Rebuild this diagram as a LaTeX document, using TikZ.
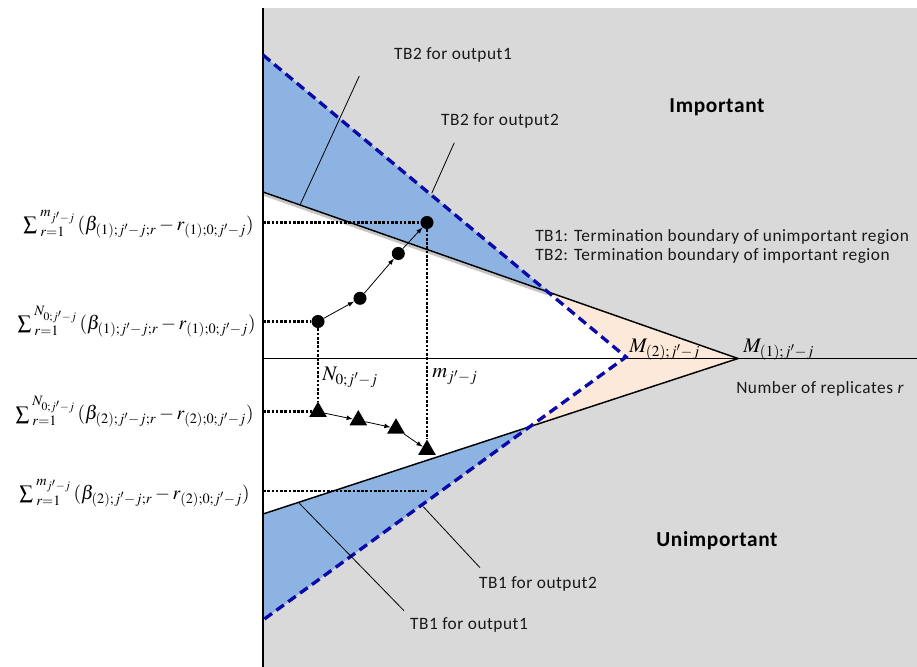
\documentclass[tikz,border=0pt]{standalone}
\usepackage{mathptmx}
\usepackage{fontspec}
\setmainfont{Liberation Serif}
\newfontfamily\calibri[LetterSpace=3]{Carlito}
\usepackage{xcolor}
\usetikzlibrary{shapes.geometric,arrows,positioning,calc}

\definecolor{bggray}{HTML}{D9D9D9}
\definecolor{tbblue}{HTML}{8DB3E2}
\definecolor{peach}{HTML}{FDE9D9}
\definecolor{dashblue}{HTML}{0A0AA6}

\begin{document}
\begin{tikzpicture}[x=0.75pt, y=-0.75pt,
    lbl/.style={font=\calibri\fontsize{13}{14.25}\selectfont, inner sep=0pt, text=black!90},
    region/.style={font=\calibri\bfseries\fontsize{16}{19}\selectfont, inner sep=0pt},
    sumlbl/.style={font=\fontsize{14.5}{18}\selectfont, inner sep=0pt, anchor=base east},
    mathlbl/.style={font=\fontsize{15.5}{18}\selectfont, inner sep=0pt},
    boundary/.style={draw=black, line width=1.1pt},
    tbdash/.style={draw=dashblue, line width=2.5pt, dash pattern=on 7pt off 4pt},
    dots/.style={draw=black, line width=2.1pt, dash pattern=on 2pt off 1.2pt},
    leader/.style={draw=black, line width=0.6pt},
    line/.style={draw, -latex, line width=0.6pt, color=black},
    dot/.style={circle, fill=black, inner sep=0pt, minimum size=9.8pt},
    tri/.style={regular polygon, regular polygon sides=3, fill=black, inner sep=0pt, minimum size=15.3pt}
]
    \useasboundingbox (0,0) rectangle (917,667);

    % Axes and boundary points
    \coordinate (top) at (263,8);
    \coordinate (bot) at (263,667);
    \coordinate (O) at (263,358.5);
    \coordinate (xend) at (917,358.5);
    \coordinate (A1) at (263,192);   % TB2 for output1 (solid)
    \coordinate (B1) at (263,514);   % TB1 for output1 (solid)
    \coordinate (M1) at (738,358.5);
    \coordinate (A2) at (263,55);    % TB2 for output2 (dashed)
    \coordinate (B2) at (263,620);   % TB1 for output2 (dashed)
    \coordinate (M2) at (626,357);
    \coordinate (I1) at (intersection of A1--M1 and A2--M2);
    \coordinate (I2) at (intersection of B1--M1 and B2--M2);

    % Regions
    \fill [bggray] (top) rectangle (917,667);
    \fill [tbblue] (A2) -- (I1) -- (A1) -- cycle;
    \fill [tbblue] (B2) -- (I2) -- (B1) -- cycle;
    \fill [peach] (I1) -- (M1) -- (I2) -- (M2) -- cycle;
    \fill [white] (A1) -- (I1) -- (M2) -- (I2) -- (B1) -- cycle;
    \draw [gray!45, line width=2pt] ([yshift=-1.7pt]A1) -- ([yshift=-1.7pt]I1);

    \draw [line width=1.5pt] (top) -- (bot);
    \draw [line width=1.1pt] (O) -- (xend);

    \path [boundary] (A1) -- (M1) -- (B1);
    \path [tbdash] (A2) -- (M2) -- (B2);

    % Sample paths
    \node [dot] (c1) at (318,321.5) {};
    \node [dot] (c2) at (360,298.3) {};
    \node [dot] (c3) at (398.3,253.5) {};
    \node [dot] (c4) at (427,222.5) {};
    \node [tri] (t1) at (318,411.8) {};
    \node [tri] (t2) at (358.3,420.2) {};
    \node [tri] (t3) at (396,428.4) {};
    \node [tri] (t4) at (427,449.8) {};

    \coordinate (y1) at (263,222.5);
    \coordinate (y2) at (263,321.5);
    \coordinate (y3) at (263,411.8);
    \coordinate (y4) at (263,491);
    \coordinate (y4end) at (427,491);

    \path [dots] (y1) -- (c4);
    \path [dots] (y2) -- (c1);
    \path [dots] (y3) -- (t1);
    \path [dots] (y4) -- (y4end);
    \path [dots] (c1) -- (t1);
    \path [dots] (c4) -- (t4);

    \path [line] (c1) -- (c2);
    \path [line] (c2) -- (c3);
    \path [line] (c3) -- (c4);
    \path [line] (t1) -- (t2);
    \path [line] (t2) -- (t3);
    \path [line] (t3) -- (t4);

    % Sums on the vertical axis
    \node [sumlbl] (s1) at (254,230.5) {$\sum_{\;r=1}^{\;m_{j'-j}}\,(\beta_{(1);j'-j;r}-r_{(1);0;j'-j})$};
    \node [sumlbl] (s2) at (256,329.5) {$\sum_{\;r=1}^{\;N_{0;j'-j}}\,(\beta_{(1);j'-j;r}-r_{(1);0;j'-j})$};
    \node [sumlbl] (s3) at (254,419.8) {$\sum_{\;r=1}^{\;N_{0;j'-j}}\,(\beta_{(2);j'-j;r}-r_{(2);0;j'-j})$};
    \node [sumlbl] (s4) at (250,499) {$\sum_{\;r=1}^{\;m_{j'-j}}\,(\beta_{(2);j'-j;r}-r_{(2);0;j'-j})$};

    % Labels on the horizontal axis
    \node [mathlbl, anchor=west] (nlbl) at (322,377) {$N_{0;j'-j}$};
    \node [mathlbl, anchor=west] (mlbl) at (432,377) {$m_{j'-j}$};
    \node [mathlbl, anchor=base west] (m2lbl) at (629,352) {$M_{(2);j'-j}$};
    \node [mathlbl, anchor=base west] (m1lbl) at (743,352) {$M_{(1);j'-j}$};
    \node [lbl, anchor=west] (nrep) at (736,389) {Number of replicates \textit{r}};

    % Regions and legend
    \node [region] (imp) at (717,107) {Important};
    \node [region] (unimp) at (717,541) {Unimportant};
    \node [lbl, anchor=west, align=left] (legend) at (535,246.5) {TB1: Termination boundary of unimportant region\\TB2: Termination boundary of important region};

    % Boundary labels with leaders
    \node [lbl] (tb2o1) at (453,55) {TB2 for output1};
    \node [lbl] (tb2o2) at (500,121) {TB2 for output2};
    \node [lbl] (tb1o2) at (538,584) {TB1 for output2};
    \node [lbl] (tb1o1) at (469,625) {TB1 for output1};
    \coordinate (l1a) at (359.3,76);
    \coordinate (l1b) at (300,205);
    \coordinate (l2a) at (454.3,142.7);
    \coordinate (l2b) at (431.7,193.3);
    \coordinate (l3a) at (480,567.7);
    \coordinate (l3b) at (423.3,506.7);
    \coordinate (l4a) at (404,610.7);
    \coordinate (l4b) at (299.3,503.3);
    \path [leader] (l1a) -- (l1b);
    \path [leader] (l2a) -- (l2b);
    \path [leader] (l3a) -- (l3b);
    \path [leader] (l4a) -- (l4b);
\end{tikzpicture}
\end{document}
